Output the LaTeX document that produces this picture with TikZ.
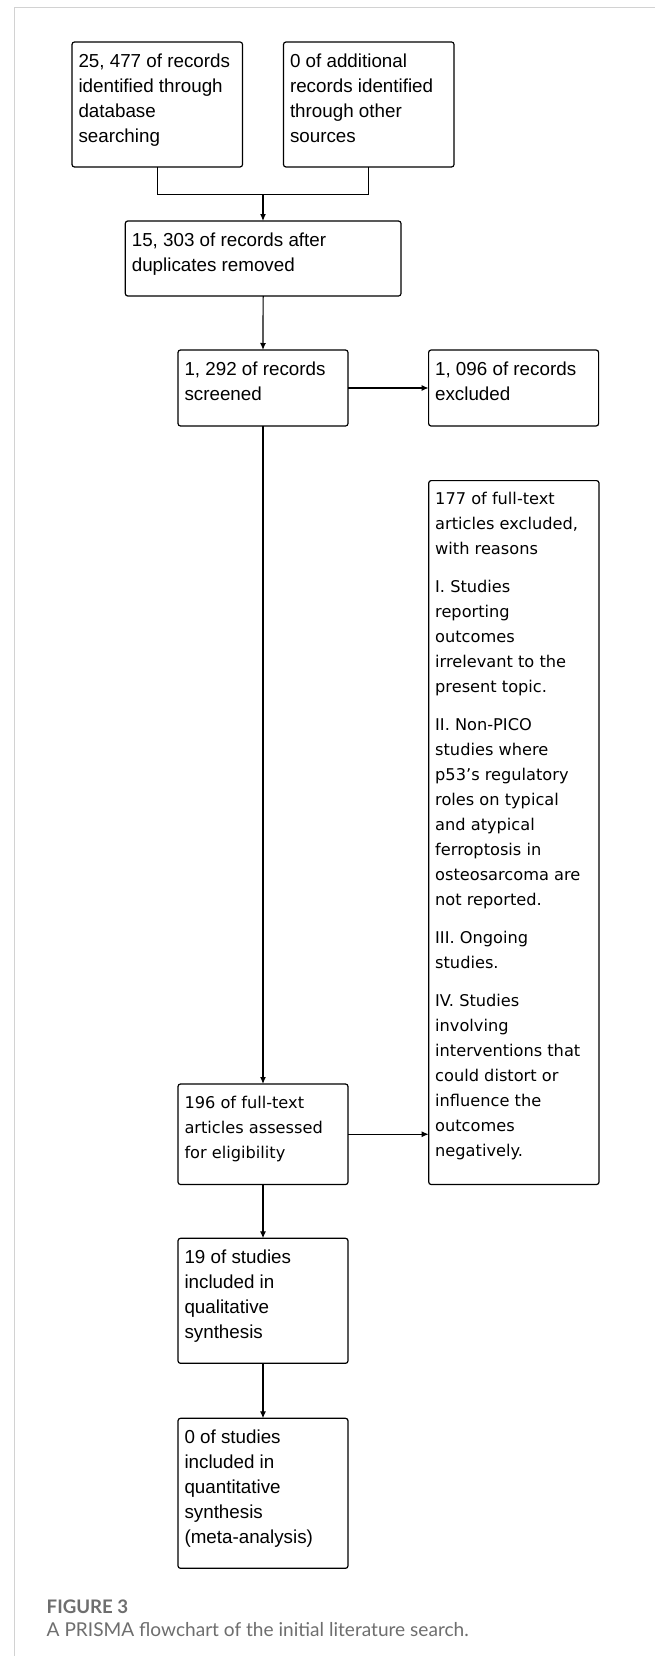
\documentclass[tikz,border=0pt]{standalone}
\usepackage{fontspec}
\setmainfont{Liberation Sans}
\newfontfamily\dvfont{DejaVu Sans}
\newfontfamily\capfont{Lato}
\usetikzlibrary{arrows.meta,calc}
\definecolor{capgray}{HTML}{6E6E6E}
\definecolor{framegray}{HTML}{D2D2D2}
\newlength\tmpw
\newcommand\bxtext[4]{\parbox[c][#2][t]{#1}{\raggedright\leftskip=6.5pt\relax\rule{0pt}{#3}#4}}
\tikzset{
  flowbox/.style={draw=black, line width=1.2pt, rounded corners=2.5pt, inner sep=0pt, outer sep=0pt, anchor=north west},
  arfont/.style={font=\fontsize{18.8pt}{25pt}\selectfont},
  dvstyle/.style={font=\dvfont\fontsize{16.2pt}{25pt}\selectfont},
  conn/.style={draw=black, line width=1.2pt},
  arr/.style={conn, -{Latex[length=7pt,width=6pt]}}
}
\begin{document}
\settowidth\tmpw{\capfont\fontsize{10pt}{12pt}\selectfont A PRISMA flowchart of the initial literature search.}
\pgfmathsetmacro\capsize{10*422/\tmpw}
\settowidth\tmpw{\capfont\bfseries\fontsize{10pt}{12pt}\selectfont FIGURE 3}
\pgfmathsetmacro\figsize{10*81.6/\tmpw}
\begin{tikzpicture}[x=1pt,y=-1pt]
\useasboundingbox (0,0) rectangle (655,1656);
\fill[white] (0,0) rectangle (655,1656);
\draw[framegray, line width=1pt] (655,7.3) -- (14.3,7.3) -- (14.3,1656);

\node[flowbox, arfont] (A) at (72,42) {\bxtext{170.5pt}{125pt}{25.5pt}{25, 477 of records\\identified through\\database\\searching}};
\node[flowbox, arfont] (B) at (283.5,42) {\bxtext{170.5pt}{125pt}{25.5pt}{0 of additional\\records identified\\through other\\sources}};
\node[flowbox, arfont] (C) at (125.3,221) {\bxtext{275.7pt}{75pt}{25.5pt}{15, 303 of records after\\duplicates removed}};
\node[flowbox, arfont] (D) at (178,350) {\bxtext{170pt}{76pt}{25.5pt}{1, 292 of records\\screened}};
\node[flowbox, arfont] (E) at (428.6,350) {\bxtext{170pt}{76pt}{25.5pt}{1, 096 of records\\excluded}};
\node[flowbox, dvstyle] (F) at (428.7,480.6) {\bxtext{170.3pt}{703.9pt}{24pt}{177 of full-text\\articles excluded,\\with reasons\\[13pt]I. Studies\\reporting\\outcomes\\irrelevant to the\\present topic.\\[13pt]II. Non-PICO\\studies where\\p53’s regulatory\\roles on typical\\and atypical\\ferroptosis in\\osteosarcoma are\\not reported.\\[13pt]III. Ongoing\\studies.\\[13pt]IV. Studies\\involving\\interventions that\\could distort or\\influence the\\outcomes\\negatively.}};
\node[flowbox, dvstyle] (G) at (178,1084) {\bxtext{170pt}{100.5pt}{24pt}{196 of full-text\\articles assessed\\for eligibility}};
\node[flowbox, arfont] (H) at (178,1238.3) {\bxtext{170pt}{125pt}{25.5pt}{19 of studies\\included in\\qualitative\\synthesis}};
\node[flowbox, arfont] (I) at (178,1418.3) {\bxtext{170pt}{150pt}{25.5pt}{0 of studies\\included in\\quantitative\\synthesis\\(meta-analysis)}};

\coordinate (j) at (263,194.5);
\draw[conn] (A.south) |- (j) -| (B.south);
\draw[arr] (j) -- (j |- C.north);
\draw[arr] (C.south) -- (D.north);
\draw[arr] (D.east) -- (E.west);
\draw[arr] (D.south) -- (G.north);
\draw[arr] (G.east) -- (G.east -| F.west);
\draw[arr] (G.south) -- (H.north);
\draw[arr] (H.south) -- (I.north);

\node[anchor=base west, inner sep=0pt, text=capgray, font=\capfont\bfseries\fontsize{\figsize pt}{\figsize pt}\selectfont] (figlabel) at (46.5,1613) {FIGURE 3};
\node[anchor=base west, inner sep=0pt, text=capgray, font=\capfont\fontsize{\capsize pt}{\capsize pt}\selectfont] (caption) at (46.5,1636) {A PRISMA flowchart of the initial literature search.};
\end{tikzpicture}
\end{document}
